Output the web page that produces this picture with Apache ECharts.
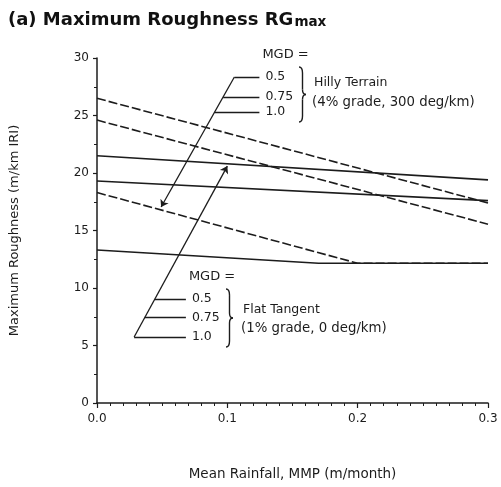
<!DOCTYPE html>
<html>
<head>
<meta charset="utf-8">
<script src="https://cdn.jsdelivr.net/npm/echarts@6/dist/echarts.min.js"></script>
<style>
  html, body { margin: 0; padding: 0; background: #fff; }
  #chart { width: 501px; height: 487px; }
</style>
</head>
<body>
<div id="chart"></div>
<script>
// Maximum roughness (m/km IRI) against mean rainfall MMP (m/month)
// Hilly terrain (4% grade, 300 deg/km), dashed curves
const hillyMGD050 = [[0, 26.5], [0.3, 17.4]];
const hillyMGD075 = [[0, 24.6], [0.3, 15.55]];
const hillyMGD100 = [[0, 18.3], [0.2, 12.15], [0.3, 12.15]];
// Flat tangent (1% grade, 0 deg/km), solid curves
const flatMGD050 = [[0, 21.5], [0.3, 19.4]];
const flatMGD075 = [[0, 19.3], [0.3, 17.6]];
const flatMGD100 = [[0, 13.3], [0.17, 12.15], [0.3, 12.15]];

// Leader lines tying the MGD keys to their curve groups
const hillyLeader = [[0.1054, 28.35], [0.0492, 17.04]];
const hillyStubs = [
  [[0.1054, 28.35], [0.1246, 28.35]],
  [[0.0968, 26.6], [0.1246, 26.6]],
  [[0.0902, 25.3], [0.1246, 25.3]]
];
const flatLeader = [[0.0285, 5.74], [0.1, 20.6]];
const flatStubs = [
  [[0.0444, 9.04], [0.0682, 9.04]],
  [[0.0367, 7.45], [0.0682, 7.45]],
  [[0.0285, 5.74], [0.0682, 5.74]]
];
const mgdLabels = ['0.5', '0.75', '1.0'];

const FONT = 'DejaVu Sans';
const INK = '#1c1c1c';

function curve(name, data, dashed) {
  return {
    name, type: 'line', data, symbol: 'none', silent: true,
    lineStyle: { color: INK, width: 1.6, type: dashed ? [9, 3] : 'solid' },
    z: 3
  };
}

// Right-facing curly brace built from quadratic curves and straight runs
function brace(x, y1, y2, w) {
  const ym = (y1 + y2) / 2, h = w / 2;
  const st = { stroke: INK, lineWidth: 1.4, fill: null };
  const q = (a, b, c) => ({
    type: 'bezierCurve',
    shape: { x1: a[0], y1: a[1], cpx1: b[0], cpy1: b[1], x2: c[0], y2: c[1] },
    style: st
  });
  const l = (a, b) => ({ type: 'line', shape: { x1: a[0], y1: a[1], x2: b[0], y2: b[1] }, style: st });
  return {
    type: 'group',
    children: [
      q([x, y1], [x + h, y1], [x + h, y1 + 6]),
      l([x + h, y1 + 6], [x + h, ym - 5]),
      q([x + h, ym - 5], [x + h, ym], [x + w, ym]),
      q([x + w, ym], [x + h, ym], [x + h, ym + 5]),
      l([x + h, ym + 5], [x + h, y2 - 6]),
      q([x + h, y2 - 6], [x + h, y2], [x, y2])
    ]
  };
}

function txt(x, y, text, size) {
  return {
    type: 'text', x, y,
    style: { text, fill: INK, font: `${size || 12}px "${FONT}"`, verticalAlign: 'middle' }
  };
}

const chart = echarts.init(document.getElementById('chart'), null, { renderer: 'canvas' });

chart.setOption({
  animation: false,
  backgroundColor: '#fff',
  textStyle: { fontFamily: FONT, color: INK },
  title: {
    left: 3, top: 2,
    text: '{t|(a) Maximum Roughness RG}{s|max}',
    textStyle: {
      rich: {
        t: { fontFamily: FONT, fontWeight: 'bold', fontSize: 18, color: '#111', lineHeight: 22, verticalAlign: 'bottom' },
        s: { fontFamily: FONT, fontWeight: 'bold', fontSize: 13.5, color: '#111', lineHeight: 12, verticalAlign: 'bottom', padding: [16, 0, 0, 1] }
      }
    }
  },
  grid: { left: 97, right: 13, top: 58, bottom: 84, containLabel: false, outerBoundsMode: 'none' },
  xAxis: {
    type: 'value', min: 0, max: 0.3, interval: 0.1,
    name: 'Mean Rainfall, MMP (m/month)',
    nameLocation: 'middle', nameGap: 64,
    nameTextStyle: { fontFamily: FONT, fontSize: 13.5, color: INK },
    axisLine: { show: true, lineStyle: { color: INK, width: 1.5 } },
    axisTick: { show: true, length: 5, lineStyle: { color: INK, width: 1.2 } },
    minorTick: { show: true, splitNumber: 10, length: 3, lineStyle: { color: INK, width: 1 } },
    splitLine: { show: false },
    axisLabel: { fontFamily: FONT, fontSize: 12, color: INK, margin: 10, formatter: v => v.toFixed(1) }
  },
  yAxis: {
    type: 'value', min: 0, max: 30, interval: 5,
    name: 'Maximum Roughness (m/km IRI)',
    nameLocation: 'middle', nameGap: 76, nameRotate: 90,
    nameTextStyle: { fontFamily: FONT, fontSize: 13, color: INK },
    axisLine: { show: true, lineStyle: { color: INK, width: 1.5 } },
    axisTick: { show: true, length: 4, lineStyle: { color: INK, width: 1.2 } },
    minorTick: { show: true, splitNumber: 2, length: 3, lineStyle: { color: INK, width: 1 } },
    splitLine: { show: false },
    axisLabel: { fontFamily: FONT, fontSize: 12, color: INK, margin: 8 }
  },
  series: [
    curve('Hilly MGD 0.5', hillyMGD050, true),
    curve('Hilly MGD 0.75', hillyMGD075, true),
    curve('Hilly MGD 1.0', hillyMGD100, true),
    curve('Flat MGD 0.5', flatMGD050, false),
    curve('Flat MGD 0.75', flatMGD075, false),
    curve('Flat MGD 1.0', flatMGD100, false),
    {
      name: 'leaders', type: 'lines', coordinateSystem: 'cartesian2d', silent: true, z: 4,
      lineStyle: { color: INK, width: 1.3, opacity: 1 },
      data: [
        { coords: hillyLeader, symbol: ['none', 'arrow'], symbolSize: 7 },
        { coords: flatLeader, symbol: ['none', 'arrow'], symbolSize: 7 }
      ].concat(hillyStubs.concat(flatStubs).map(c => ({ coords: c, symbol: ['none', 'none'] })))
    }
  ]
});

// Key texts placed next to the ends of the stub lines
const graphics = [];
function keyBlock(stubs, braceX, titles, textDx, dy1, dy2) {
  const ends = stubs.map(s => chart.convertToPixel({ gridIndex: 0 }, s[1]));
  graphics.push(txt(ends[0][0] + 3, ends[0][1] - 22, 'MGD =', 13));
  ends.forEach((p, i) => graphics.push(txt(p[0] + 6, p[1], mgdLabels[i], 12.5)));
  const top = ends[0][1] - 10, bot = ends[2][1] + 10;
  graphics.push(brace(braceX, top, bot, 7));
  const mid = (top + bot) / 2;
  graphics.push(txt(braceX + textDx + 2, mid + dy1, titles[0], 12.5));
  graphics.push(txt(braceX + textDx, mid + dy2, titles[1], 13.3));
}
keyBlock(hillyStubs, 299, ['Hilly Terrain', '(4% grade, 300 deg/km)'], 13, -12, 8);
keyBlock(flatStubs, 226, ['Flat Tangent', '(1% grade, 0 deg/km)'], 15, -8, 11);
chart.setOption({ graphic: graphics });
</script>
</body>
</html>
